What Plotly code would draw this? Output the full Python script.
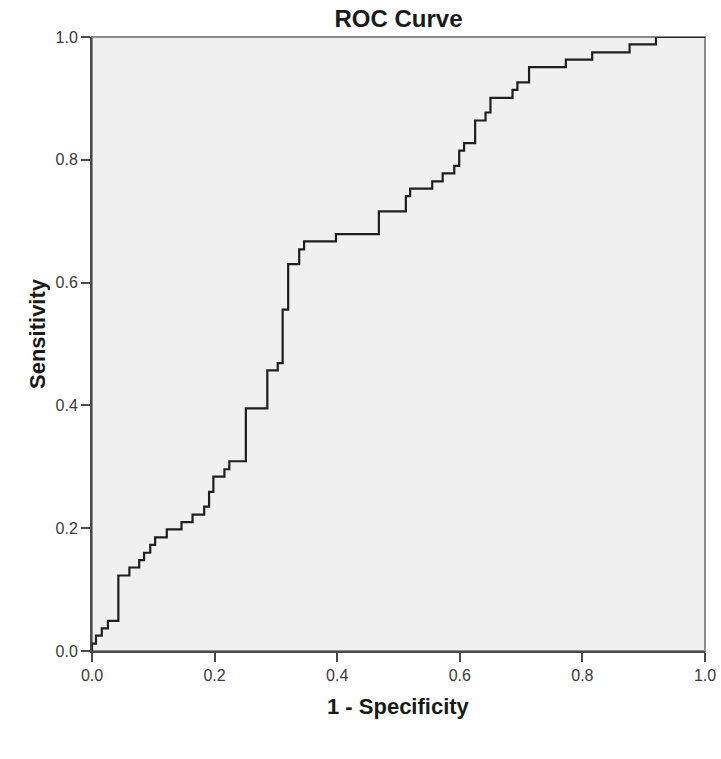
import plotly.graph_objects as go

# ROC curve corner points (1 - specificity, sensitivity)
fpr = [0.0, 0.0, 0.0065, 0.016, 0.026, 0.043, 0.061, 0.077, 0.085, 0.095,
       0.103, 0.122, 0.146, 0.164, 0.183, 0.191, 0.198, 0.216, 0.224, 0.251,
       0.286, 0.303, 0.311, 0.320, 0.338, 0.346, 0.398, 0.468, 0.512, 0.519,
       0.555, 0.572, 0.591, 0.599, 0.607, 0.625, 0.642, 0.650, 0.686, 0.694,
       0.713, 0.773, 0.816, 0.877, 0.920, 1.0]
tpr = [0.0, 0.012, 0.025, 0.037, 0.049, 0.123, 0.136, 0.148, 0.160, 0.173,
       0.185, 0.198, 0.210, 0.222, 0.235, 0.259, 0.284, 0.296, 0.309, 0.395,
       0.457, 0.469, 0.556, 0.630, 0.654, 0.667, 0.679, 0.716, 0.741, 0.753,
       0.765, 0.778, 0.790, 0.815, 0.827, 0.864, 0.877, 0.901, 0.914, 0.926,
       0.951, 0.963, 0.975, 0.988, 1.0, 1.0]

ticks = [0.0, 0.2, 0.4, 0.6, 0.8, 1.0]
tick_text = ["0.0", "0.2", "0.4", "0.6", "0.8", "1.0"]

font = "Liberation Sans, Arial, sans-serif"
W, H = 721, 759

fig = go.Figure(go.Scatter(
    x=fpr, y=tpr, mode="lines", line_shape="hv",
    line=dict(color="#1e1e1e", width=2.2), showlegend=False,
))

# light frame for top/right edges
fig.add_shape(type="rect", xref="paper", yref="paper", x0=0, y0=0, x1=1, y1=1,
              line=dict(color="#8c8c8c", width=2), layer="below")

axis_common = dict(
    range=[0, 1], tickvals=ticks, ticktext=tick_text,
    showgrid=False, zeroline=False, automargin=False,
    showline=True, linecolor="#4a4a4a", linewidth=2,
    ticks="outside", ticklen=9, tickwidth=2, tickcolor="#4a4a4a",
    tickfont=dict(family=font, size=16, color="#3a3a3a"),
)

title_font = dict(family=font, size=22, color="#1a1a1a")

fig.add_annotation(text="<b>1 - Specificity</b>", xref="paper", yref="paper",
                   x=0.5, y=0, yanchor="middle", yshift=-55,
                   showarrow=False, font=title_font)
fig.add_annotation(text="<b>Sensitivity</b>", xref="paper", yref="paper",
                   x=0, y=0.5, xanchor="center", xshift=-55, yshift=10, textangle=-90,
                   showarrow=False, font=title_font)

fig.update_layout(
    width=W, height=H,
    margin=dict(l=92, r=16, t=37, b=108),
    paper_bgcolor="white", plot_bgcolor="#f0f0f0",
    title=dict(text="<b>ROC Curve</b>", x=0.5, xref="paper", y=1 - 19 / H,
               xanchor="center", yanchor="middle",
               font=dict(family=font, size=24, color="#1a1a1a")),
    xaxis=axis_common,
    yaxis=axis_common,
)

# drop the page's default body margin so the figure fills the window
fig.write_html("out.html", config={"displayModeBar": False},
               post_script="document.body.style.margin='0';")
